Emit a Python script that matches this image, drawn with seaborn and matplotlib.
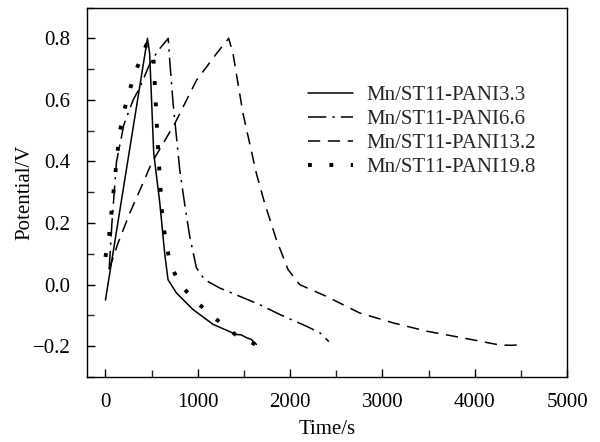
import numpy as np
import pandas as pd
import matplotlib
matplotlib.use("Agg")
import matplotlib.pyplot as plt
import seaborn as sns
from matplotlib.ticker import MultipleLocator

# ---- data ----
labels = ["Mn/ST11-PANI3.3", "Mn/ST11-PANI6.6", "Mn/ST11-PANI13.2", "Mn/ST11-PANI19.8"]

t_33 = [0, 455, 479, 523, 589, 642, 678, 769, 949, 1166, 1418, 1470, 1527, 1580, 1635]
v_33 = [-0.05, 0.80, 0.75, 0.426, 0.265, 0.10, 0.016, -0.027, -0.081, -0.129, -0.162, -0.163, -0.172, -0.178, -0.194]

t_66 = [40, 70, 120, 200, 300, 372, 480, 570, 680, 696, 733, 769, 805, 859, 913, 985,
        1075, 1238, 1455, 1672, 1889, 2177, 2321, 2420]
v_66 = [0.05, 0.20, 0.40, 0.52, 0.60, 0.64, 0.717, 0.76, 0.80, 0.728, 0.588, 0.48, 0.372, 0.26, 0.156, 0.055,
        0.016, -0.011, -0.038, -0.065, -0.097, -0.135, -0.156, -0.185]

t_132 = [40, 136, 263, 407, 498, 751, 985, 1202, 1335, 1382, 1490, 1635, 1725, 1852, 1978, 2104, 2393, 2754,
         3115, 3477, 3873, 4271, 4400, 4500]
v_132 = [0.05, 0.135, 0.232, 0.33, 0.394, 0.523, 0.663, 0.75, 0.80, 0.75, 0.556, 0.361, 0.264, 0.146, 0.049, 0.0,
         -0.038, -0.092, -0.124, -0.151, -0.173, -0.196, -0.197, -0.195]

t_198 = [0, 40, 80, 120, 155, 202, 263, 336, 444, 516, 540, 563, 588, 617, 653, 696, 794, 985, 1190, 1408, 1635]
v_198 = [0.09, 0.16, 0.28, 0.40, 0.496, 0.564, 0.633, 0.70, 0.78, 0.755, 0.62, 0.48, 0.35, 0.213, 0.143, 0.075,
         0.005, -0.056, -0.11, -0.162, -0.196]

series_t = [t_33, t_66, t_132, t_198]
series_v = [v_33, v_66, v_132, v_198]

# ---- style ----
sns.set_theme(style="ticks")
plt.rcParams["font.family"] = ["Liberation Serif", "DejaVu Serif"]

FS = 15

styles = [
    dict(linestyle="-", lw=1.1),
    dict(linestyle=(0, (12, 4, 1.5, 4)), lw=1.1),
    dict(linestyle=(0, (8, 5)), lw=1.1),
    dict(linestyle=(0, (1, 4.5)), lw=2.8),
]

fig = plt.figure(figsize=(6.0, 4.42), dpi=100)
ax = fig.add_axes([0.145, 0.147, 0.80, 0.836])

for lab, t, v, st in zip(labels, series_t, series_v, styles):
    df = pd.DataFrame({"Time": t, "Potential": v})
    sns.lineplot(data=df, x="Time", y="Potential", ax=ax, color="black",
                 sort=False, estimator=None, label=lab, **st)

ax.set_xlim(-200, 5000)
ax.set_ylim(-0.3, 0.9)
ax.xaxis.set_major_locator(MultipleLocator(1000))
ax.xaxis.set_minor_locator(MultipleLocator(500))
ax.yaxis.set_minor_locator(MultipleLocator(0.1))
ax.set_yticks([-0.2, 0.0, 0.2, 0.4, 0.6, 0.8])
ax.set_yticklabels(["\u22120.2", "0.0", "0.2", "0.4", "0.6", "0.8"])
ax.tick_params(axis="both", which="major", direction="in", length=5.5, width=1, labelsize=FS,
               top=False, right=False, colors="black")
ax.tick_params(axis="x", which="major", pad=11.2)
ax.tick_params(axis="y", which="major", pad=12)
ax.tick_params(axis="both", which="minor", direction="in", length=5, width=1,
               top=False, right=False)
for s in ax.spines.values():
    s.set_color("black")
    s.set_linewidth(1.0)

ax.set_xlabel("Time/s", fontsize=FS, color="black", labelpad=6)
ax.set_ylabel("Potential/V", fontsize=FS, color="black", labelpad=-1)

leg = ax.legend(loc="upper left", bbox_to_anchor=(0.46, 0.789), frameon=False, fontsize=FS,
                handlelength=2.15, labelspacing=0.21, handletextpad=0.65, borderpad=0.0,
                borderaxespad=0.0)

fig.savefig("out.png", dpi=100, facecolor="white")
